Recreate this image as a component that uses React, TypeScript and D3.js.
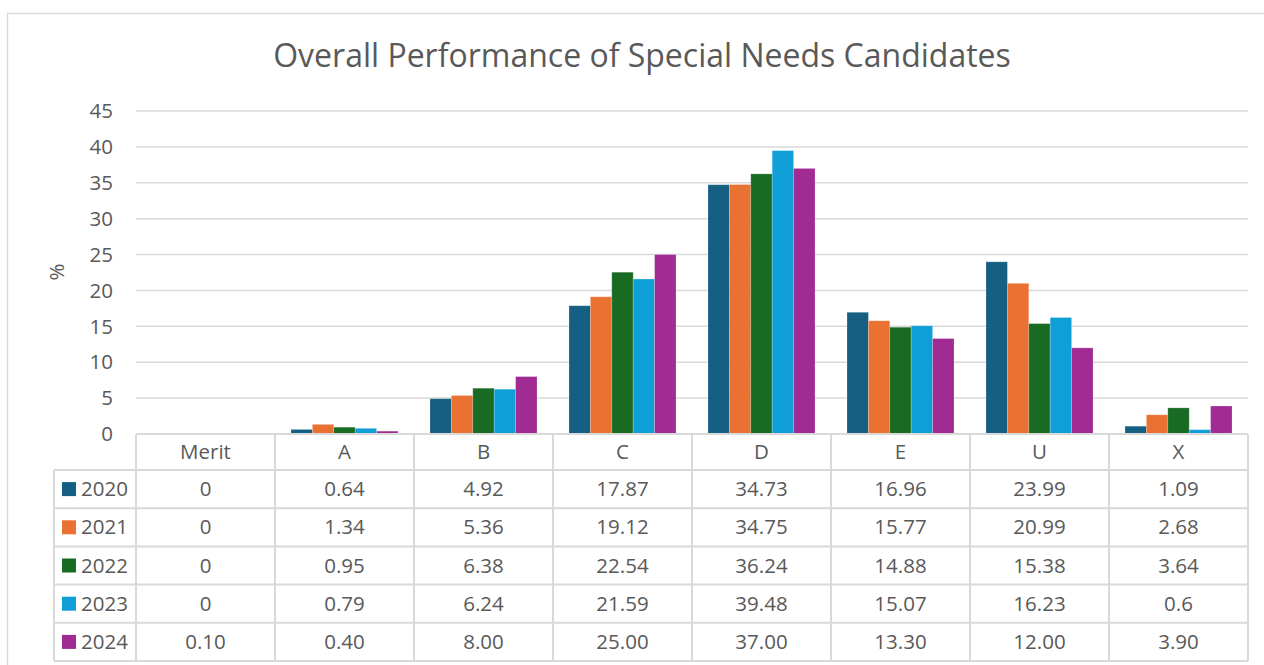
import React from "react";
import * as d3 from "d3";

const categories = ["Merit", "A", "B", "C", "D", "E", "U", "X"];
const years = ["2020", "2021", "2022", "2023", "2024"];
const v2020 = [0, 0.64, 4.92, 17.87, 34.73, 16.96, 23.99, 1.09];
const v2021 = [0, 1.34, 5.36, 19.12, 34.75, 15.77, 20.99, 2.68];
const v2022 = [0, 0.95, 6.38, 22.54, 36.24, 14.88, 15.38, 3.64];
const v2023 = [0, 0.79, 6.24, 21.59, 39.48, 15.07, 16.23, 0.6];
const v2024 = [0.1, 0.4, 8.0, 25.0, 37.0, 13.3, 12.0, 3.9];
const labels2020 = ["0", "0.64", "4.92", "17.87", "34.73", "16.96", "23.99", "1.09"];
const labels2021 = ["0", "1.34", "5.36", "19.12", "34.75", "15.77", "20.99", "2.68"];
const labels2022 = ["0", "0.95", "6.38", "22.54", "36.24", "14.88", "15.38", "3.64"];
const labels2023 = ["0", "0.79", "6.24", "21.59", "39.48", "15.07", "16.23", "0.6"];
const labels2024 = ["0.10", "0.40", "8.00", "25.00", "37.00", "13.30", "12.00", "3.90"];
const yTicks = [0, 5, 10, 15, 20, 25, 30, 35, 40, 45];
const colors = ["#156082", "#E97132", "#196B24", "#0F9ED5", "#A02B93"];

const seriesValues = [v2020, v2021, v2022, v2023, v2024];
const seriesLabels = [labels2020, labels2021, labels2022, labels2023, labels2024];

const W = 1264;
const H = 665;
const plotLeft = 136;
const plotRight = 1248;
const plotTop = 111;
const plotBottom = 434;
const headerBottom = 470;
const rowH = 38.2;
const legendLeft = 54;
const textColor = "#595959";
const lineColor = "#d9d9d9";
const font = "'Open Sans', 'Liberation Sans', sans-serif";
const fs = 20.5;

export default function App() {
  const y = d3.scaleLinear().domain([0, 45]).range([plotBottom, plotTop]);
  const x = d3.scaleBand().domain(categories).range([plotLeft, plotRight]).padding(0);
  const cw = x.bandwidth();
  const xi = d3.scaleBand().domain(years).range([16, cw - 16]).padding(0);
  const tableBottom = headerBottom + rowH * years.length;

  return (
    <svg
      width={W}
      height={H}
      style={{ position: "absolute", left: 0, top: 0, background: "#fff" }}
      fontFamily={font}
    >
      <rect x={7.5} y={13.5} width={W + 10} height={H + 10} fill="#fff" stroke={lineColor} strokeWidth={1.5} />
      <text x={642} y={67} textAnchor="middle" fontSize={32} fill={textColor}>
        Overall Performance of Special Needs Candidates
      </text>
      {yTicks.map((t) => (
        <g key={t}>
          {t > 0 && (
            <line x1={plotLeft} x2={plotRight} y1={y(t)} y2={y(t)} stroke={lineColor} strokeWidth={1.5} />
          )}
          <text x={113} y={y(t)} dy="0.35em" textAnchor="end" fontSize={fs} fill={textColor}>
            {t}
          </text>
        </g>
      ))}
      <text
        transform={`translate(64,272) rotate(-90)`}
        textAnchor="middle"
        fontSize={fs}
        fill={textColor}
      >
        %
      </text>
      {seriesValues.map((vals, si) =>
        categories.map((c, ci) => (
          <rect
            key={`${si}-${ci}`}
            x={(x(c) as number) + (xi(years[si]) as number)}
            y={y(vals[ci])}
            width={xi.bandwidth()}
            height={plotBottom - y(vals[ci])}
            fill={colors[si]}
            stroke="rgba(255,255,255,0.25)"
            strokeWidth={0.8}
          />
        ))
      )}
      <line x1={plotLeft} x2={plotRight} y1={plotBottom} y2={plotBottom} stroke={lineColor} strokeWidth={2} />
      <line x1={legendLeft} x2={plotRight} y1={headerBottom} y2={headerBottom} stroke={lineColor} strokeWidth={2} />
      {years.map((yr, i) => (
        <line
          key={yr}
          x1={legendLeft}
          x2={plotRight}
          y1={headerBottom + rowH * (i + 1)}
          y2={headerBottom + rowH * (i + 1)}
          stroke={lineColor}
          strokeWidth={2}
        />
      ))}
      <line x1={legendLeft} x2={legendLeft} y1={headerBottom} y2={tableBottom} stroke={lineColor} strokeWidth={2} />
      {categories.map((c) => (
        <line
          key={c}
          x1={x(c) as number}
          x2={x(c) as number}
          y1={plotBottom}
          y2={tableBottom}
          stroke={lineColor}
          strokeWidth={2}
        />
      ))}
      <line x1={plotRight} x2={plotRight} y1={plotBottom} y2={tableBottom} stroke={lineColor} strokeWidth={2} />
      {categories.map((c) => (
        <text
          key={c}
          x={(x(c) as number) + cw / 2}
          y={(plotBottom + headerBottom) / 2}
          dy="0.35em"
          textAnchor="middle"
          fontSize={fs}
          fill={textColor}
        >
          {c}
        </text>
      ))}
      {years.map((yr, si) => {
        const cy = headerBottom + rowH * si + rowH / 2;
        return (
          <g key={yr}>
            <rect x={62} y={cy - 7} width={14} height={14} fill={colors[si]} />
            <text x={81} y={cy} dy="0.35em" fontSize={fs} fill={textColor}>
              {yr}
            </text>
            {categories.map((c, ci) => (
              <text
                key={c}
                x={(x(c) as number) + cw / 2}
                y={cy}
                dy="0.35em"
                textAnchor="middle"
                fontSize={fs}
                fill={textColor}
              >
                {seriesLabels[si][ci]}
              </text>
            ))}
          </g>
        );
      })}
    </svg>
  );
}
